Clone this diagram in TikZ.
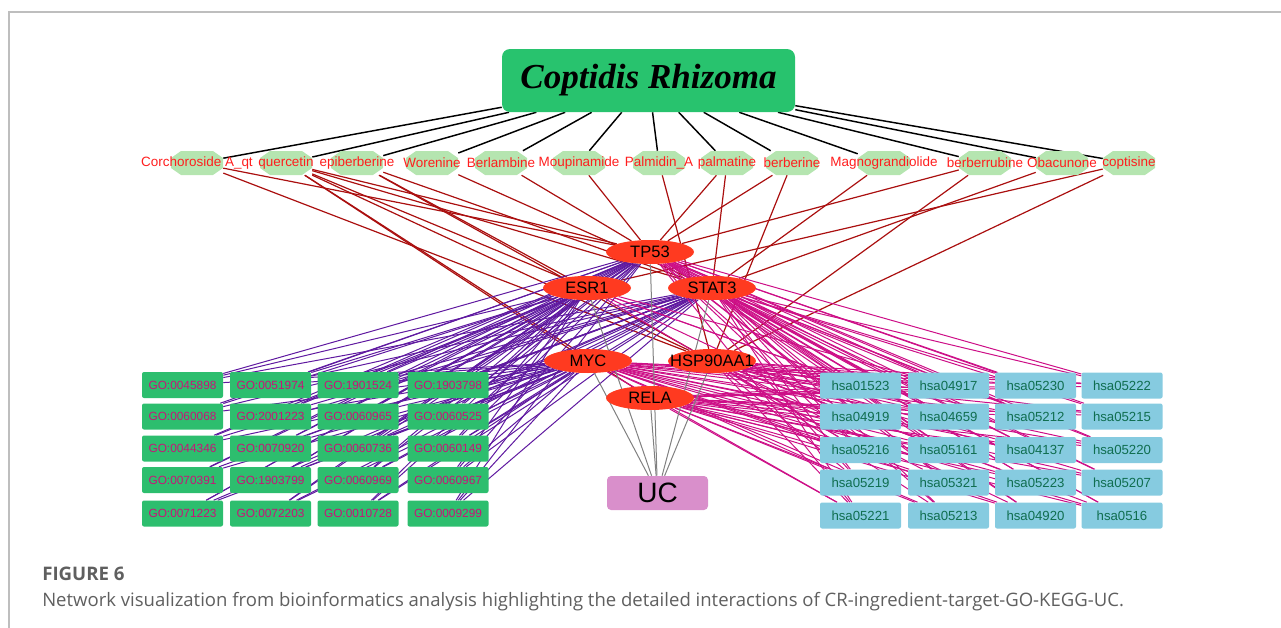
\documentclass[tikz,border=0pt]{standalone}
\usepackage{fontspec}
\setmainfont{Liberation Sans}
\newfontfamily\crfont{Liberation Serif}
\newfontfamily\capfont{Open Sans}
\usetikzlibrary{shapes.geometric,backgrounds}

\definecolor{crgreen}{RGB}{40,195,110}
\definecolor{inggreen}{RGB}{181,229,176}
\definecolor{ingred}{RGB}{255,30,30}
\definecolor{tgred}{RGB}{255,58,32}
\definecolor{gogreen}{RGB}{45,190,110}
\definecolor{gotext}{RGB}{200,20,120}
\definecolor{kgblue}{RGB}{134,203,224}
\definecolor{kgtext}{RGB}{16,110,80}
\definecolor{ucpink}{RGB}{217,143,203}
\definecolor{tgedgecol}{RGB}{170,15,15}
\definecolor{goedgecol}{RGB}{95,25,160}
\definecolor{kgedgecol}{RGB}{205,15,135}
\definecolor{framegray}{RGB}{190,190,190}
\definecolor{capgray}{RGB}{95,95,95}

\tikzset{
  crbox/.style={rectangle, rounded corners=6pt, fill=crgreen, minimum width=219.75pt, minimum height=47.25pt,
    font=\crfont\bfseries\itshape\fontsize{26.3}{30}\selectfont},
  ingnode/.style={rectangle, minimum width=39pt, minimum height=18pt, inner sep=0pt},
  ingtext/.style={text=ingred, font=\fontsize{10.1}{12}\selectfont},
  tgnode/.style={ellipse, fill=tgred, minimum width=66pt, minimum height=18pt, inner sep=0pt},
  tgtext/.style={text=black, font=\fontsize{12.4}{14}\selectfont},
  gobox/.style={rectangle, rounded corners=1.5pt, fill=gogreen, minimum width=60.75pt, minimum height=19.5pt,
    inner sep=0pt, text=gotext, font=\fontsize{8.9}{10}\selectfont},
  kgbox/.style={rectangle, rounded corners=1.5pt, fill=kgblue, minimum width=60.75pt, minimum height=19.5pt,
    inner sep=0pt, text=kgtext, font=\fontsize{9.9}{11}\selectfont},
  ucbox/.style={rectangle, rounded corners=3pt, fill=ucpink, minimum width=75.75pt, minimum height=25.5pt,
    font=\fontsize{21}{24}\selectfont},
  cledge/.style={black, line width=1.1pt},
  tgedge/.style={tgedgecol, line width=0.9pt},
  goedge/.style={goedgecol, line width=0.75pt},
  kgedge/.style={kgedgecol, line width=0.75pt},
  ucedge/.style={gray, line width=0.75pt}
}

\begin{document}
\begin{tikzpicture}[x=0.75pt, y=-0.75pt]
  \useasboundingbox (0,0) rectangle (1281,628);
  \draw[framegray, line width=1.1pt] (9,628) -- (9,12) -- (1281,12);

  % herb
  \node[crbox] (cr) at (648.5,80.5) {Coptidis Rhizoma};

  % ingredients
  \node[ingnode, label={[ingtext]center:Corchoroside A\_qt}] (cor) at (197,163) {};
  \node[ingnode, label={[ingtext]center:quercetin}] (que) at (286,163) {};
  \node[ingnode, label={[ingtext]center:epiberberine}] (epi) at (357,163) {};
  \node[ingnode, label={[ingtext]center:Worenine}] (wor) at (432,163) {};
  \node[ingnode, label={[ingtext]center:Berlambine}] (ber) at (501,163) {};
  \node[ingnode, label={[ingtext]center:Moupinamide}] (mou) at (579,163) {};
  \node[ingnode, label={[ingtext]center:Palmidin\_A}] (pmd) at (659,163) {};
  \node[ingnode, label={[ingtext]center:palmatine}] (pal) at (727,163) {};
  \node[ingnode, label={[ingtext]center:berberine}] (brb) at (792,163) {};
  \node[ingnode, label={[ingtext]center:Magnograndiolide}] (mag) at (884,163) {};
  \node[ingnode, label={[ingtext]center:berberrubine}] (bru) at (985,163) {};
  \node[ingnode, label={[ingtext]center:Obacunone}] (oba) at (1062,163) {};
  \node[ingnode, label={[ingtext]center:coptisine}] (cop) at (1129,163) {};

  % targets
  \node[tgnode, label={[tgtext]center:TP53}] (tp53) at (650,252) {};
  \node[tgnode, label={[tgtext]center:ESR1}] (esr1) at (587,288) {};
  \node[tgnode, label={[tgtext]center:STAT3}] (stat3) at (712,288) {};
  \node[tgnode, label={[tgtext]center:MYC}] (myc) at (588,361) {};
  \node[tgnode, label={[tgtext]center:HSP90AA1}] (hsp) at (712,361) {};
  \node[tgnode, label={[tgtext]center:RELA}] (rela) at (650,398) {};

  % disease
  \node[ucbox] (uc) at (657.5,493) {UC};

  % GO terms
  \foreach \lab/\x/\y [count=\i] in {
      GO:0045898/182.5/385, GO:0051974/270.5/385, GO:1901524/358/385, GO:1903798/448/385,
      GO:0060068/182.5/416.5, GO:2001223/270.5/416.5, GO:0060965/358/416.5, GO:0060525/448/416.5,
      GO:0044346/182.5/448.5, GO:0070920/270.5/448.5, GO:0060736/358/448.5, GO:0060149/448/448.5,
      GO:0070391/182.5/480, GO:1903799/270.5/480, GO:0060969/358/480, GO:0060967/448/480,
      GO:0071223/182.5/513.5, GO:0072203/270.5/513.5, GO:0010728/358/513.5, GO:0009299/448/513.5}
    \node[gobox] (go\i) at (\x,\y) {\lab};

  % KEGG pathways
  \foreach \lab/\x/\y [count=\i] in {
      hsa01523/860.5/385.5, hsa04917/948.5/385.5, hsa05230/1035.5/385.5, hsa05222/1122/385.5,
      hsa04919/860.5/416.5, hsa04659/948.5/416.5, hsa05212/1035.5/416.5, hsa05215/1122/416.5,
      hsa05216/860.5/450, hsa05161/948.5/450, hsa04137/1035.5/450, hsa05220/1122/450,
      hsa05219/860.5/482.5, hsa05321/948.5/482.5, hsa05223/1035.5/482.5, hsa05207/1122/482.5,
      hsa05221/860.5/515.5, hsa05213/948.5/515.5, hsa04920/1035.5/515.5, hsa0516/1122/515.5}
    \node[kgbox] (kg\i) at (\x,\y) {\lab};

  \begin{scope}[on background layer]
    \foreach \n in {cor,que,epi,wor,ber,mou,pmd,pal,brb,mag,bru,oba,cop}
      \draw[cledge] (cr) -- (\n);

    \foreach \a/\b in {cor/tp53, cor/hsp, que/tp53, que/esr1, que/stat3, que/myc, que/hsp, que/rela,
        epi/esr1, epi/stat3, epi/hsp, wor/stat3, ber/tp53, mou/tp53, pmd/hsp, pal/tp53, pal/stat3,
        brb/tp53, brb/hsp, mag/stat3, bru/tp53, bru/hsp, oba/stat3, cop/esr1, cop/hsp}
      \draw[tgedge] (\a) -- (\b);

    \foreach \i in {1,...,20}
      \foreach \t in {esr1,tp53,stat3,myc}
        \draw[goedge] (\t) -- (go\i);

    \foreach \i in {1,...,20}
      \foreach \t in {tp53,stat3,hsp,rela,myc}
        \draw[kgedge] (\t) -- (kg\i);
    \foreach \i in {1,2,5,6,9}
      \draw[kgedge] (esr1) -- (kg\i);

    \foreach \t in {tp53,esr1,stat3,myc,hsp,rela}
      \draw[ucedge] (\t) -- (uc);

    % octagons behind the ingredient labels
    \foreach \n in {cor,que,epi,wor,ber,mou,pmd,pal,brb,mag,bru,oba,cop}
      \fill[inggreen] (\n.center) ++(-26,5) -- ++(0,-10) -- ++(10,-7) -- ++(32,0) -- ++(10,7)
        -- ++(0,10) -- ++(-10,7) -- ++(-32,0) -- cycle;
  \end{scope}

  % caption
  \node[anchor=base west, inner sep=0pt, text=capgray, font=\capfont\bfseries\fontsize{14}{16}\selectfont]
    (fig) at (42,580) {FIGURE 6};
  \node[anchor=base west, inner sep=0pt, text=capgray, font=\capfont\fontsize{13.9}{16}\selectfont]
    (cap) at (42,606) {Network visualization from bioinformatics analysis highlighting the detailed interactions of CR-ingredient-target-GO-KEGG-UC.};
\end{tikzpicture}
\end{document}
